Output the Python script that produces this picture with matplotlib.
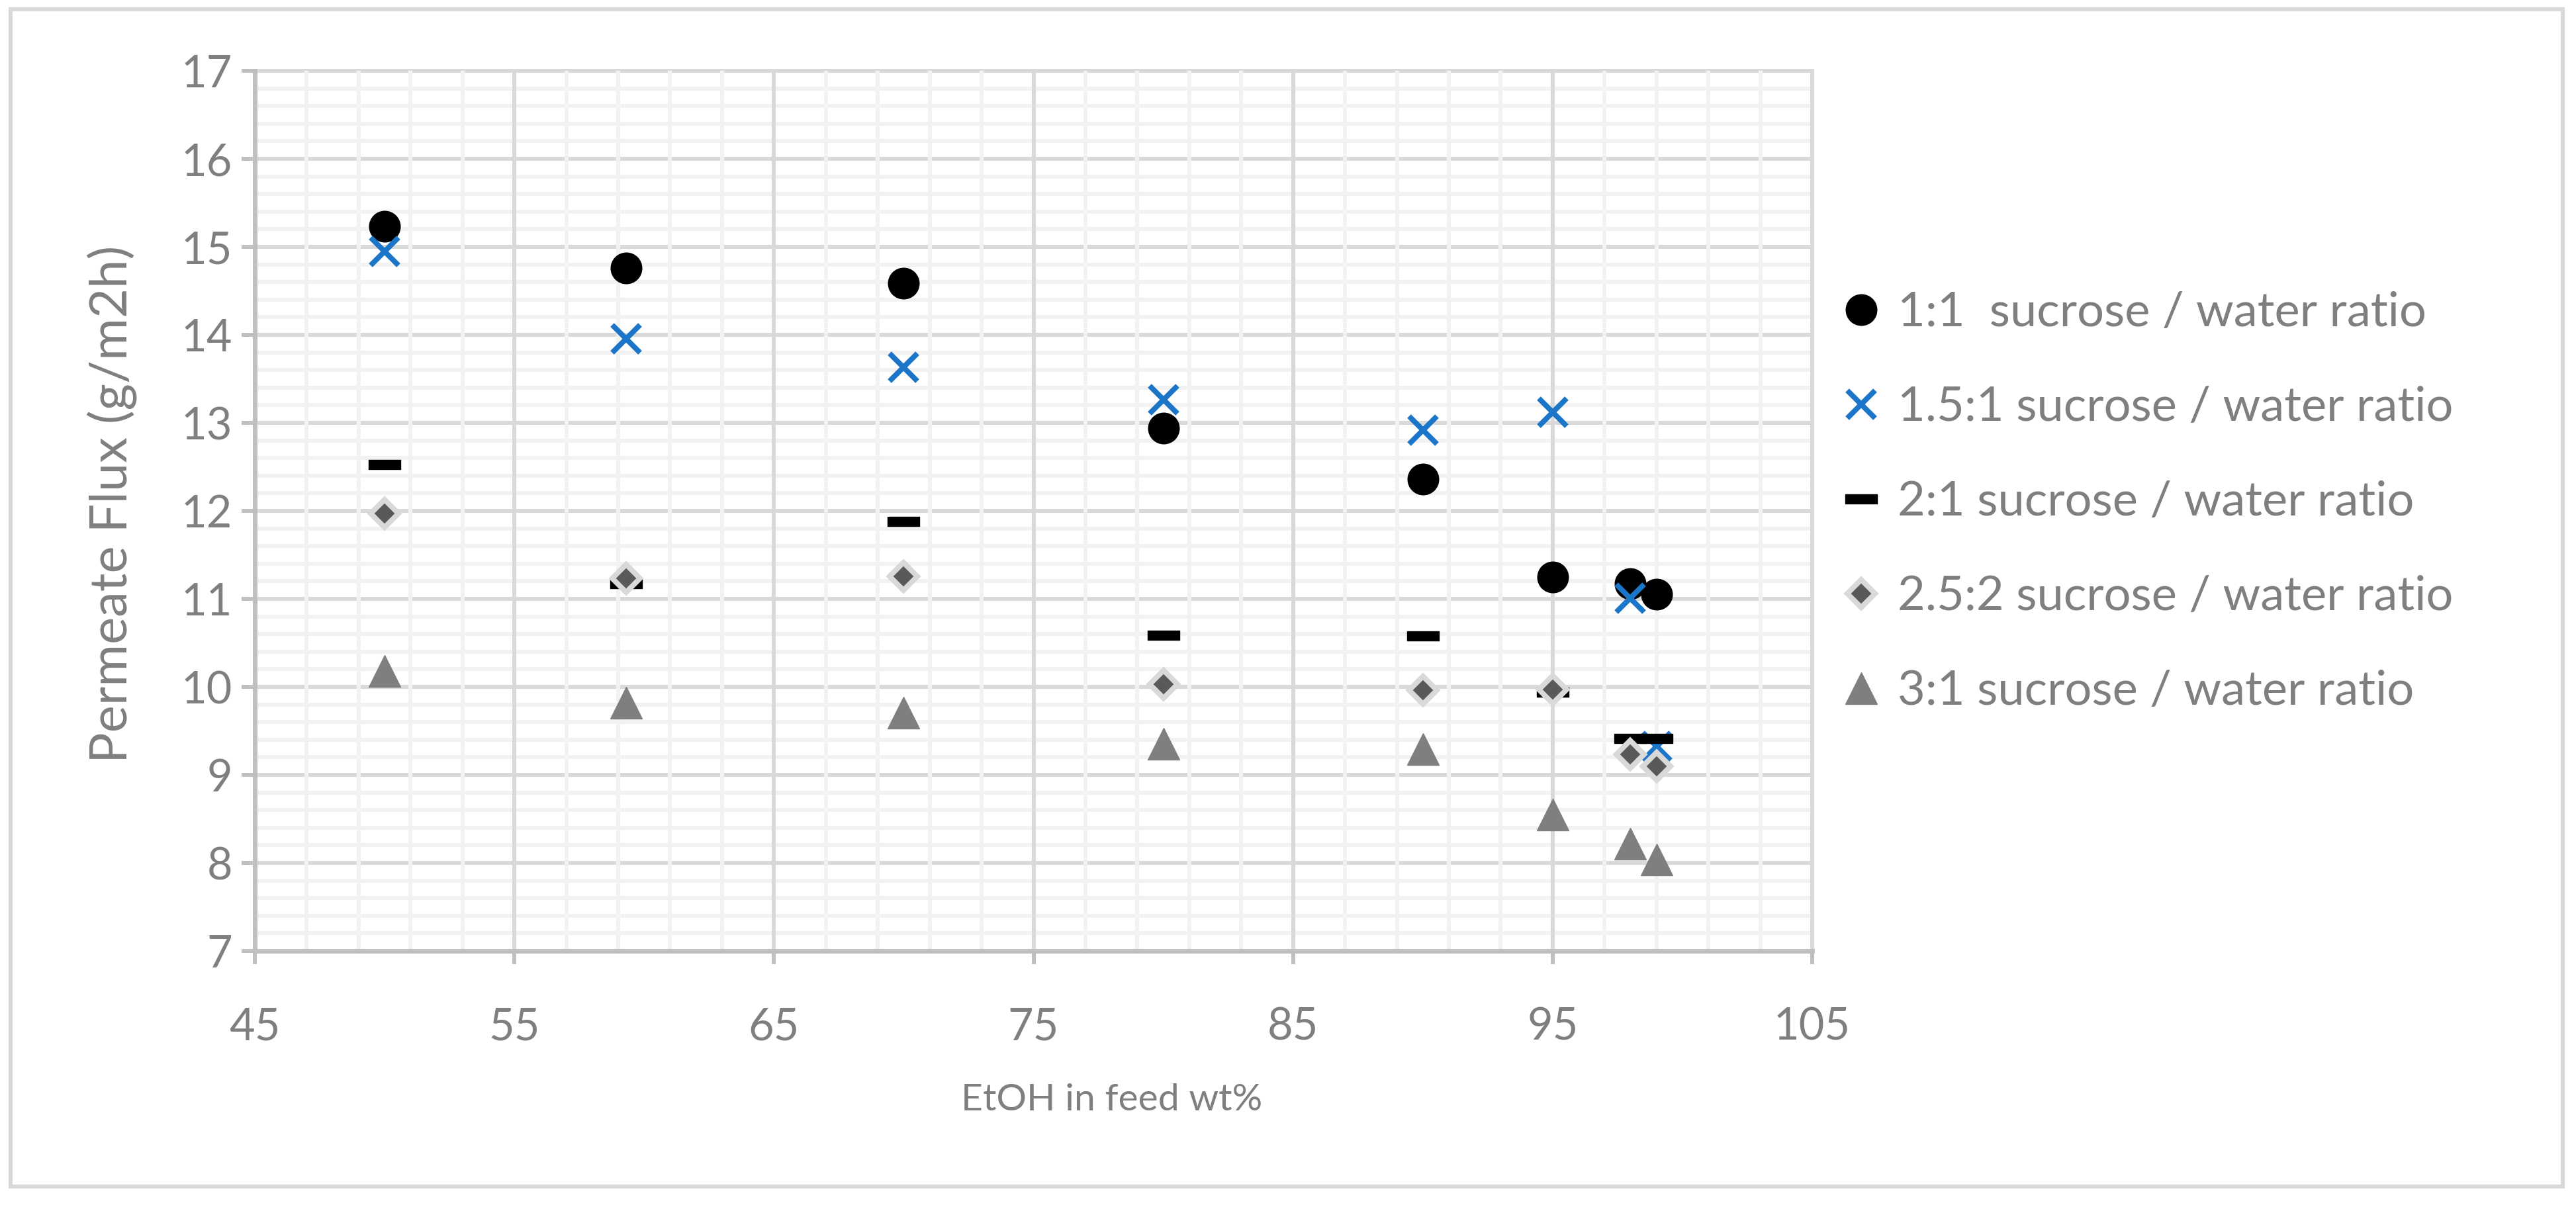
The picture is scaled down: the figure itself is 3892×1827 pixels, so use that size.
import matplotlib
matplotlib.use("Agg")
import matplotlib.pyplot as plt
from matplotlib.path import Path
from matplotlib.patches import Rectangle
from matplotlib.ticker import MultipleLocator

# ---------------- data ----------------
etoh = [50, 59.3, 70, 80, 90, 95, 98, 99]
flux_1_1 = [15.23, 14.76, 14.585, 12.94, 12.36, 11.25, 11.17, 11.05]
flux_15_1 = [14.95, 13.955, 13.63, 13.26, 12.92, 13.12, 11.01, 9.32]
flux_2_1 = [12.53, 11.17, 11.88, 10.59, 10.58, 9.94, 9.41, 9.41]
flux_25_2 = [11.97, 11.23, 11.255, 10.03, 9.96, 9.97, 9.23, 9.10]
flux_3_1 = [10.18, 9.82, 9.71, 9.35, 9.29, 8.55, 8.22, 8.04]

labels = ["1:1  sucrose / water ratio",
          "1.5:1 sucrose / water ratio",
          "2:1 sucrose / water ratio",
          "2.5:2 sucrose / water ratio",
          "3:1 sucrose / water ratio"]

x_label = "EtOH in feed wt%"
y_label = "Permeate Flux (g/m2h)"

# ---------------- style ----------------
W, H = 3892, 1827
DPI = 100
PX = 72.0 / DPI  # points per pixel

plt.rcParams['font.family'] = ['Lato', 'DejaVu Sans']
TXT = '#7F7F7F'

fig = plt.figure(figsize=(W / DPI, H / DPI), dpi=DPI)
fig.patch.set_facecolor('white')

L, R, T, B = 385, 2738, 107, 1437
ax = fig.add_axes([L / W, 1 - B / H, (R - L) / W, (B - T) / H])

ax.set_xlim(45, 105)
ax.set_ylim(7, 17)
ax.xaxis.set_major_locator(MultipleLocator(10, offset=5))
ax.xaxis.set_minor_locator(MultipleLocator(2, offset=1))
ax.yaxis.set_major_locator(MultipleLocator(1))
ax.yaxis.set_minor_locator(MultipleLocator(0.2))

grid_lw = 6 * PX
ax.grid(which='minor', color='#F2F2F2', linewidth=grid_lw)
ax.grid(which='major', color='#D9D9D9', linewidth=grid_lw)
ax.yaxis.set_zorder(0.5)
ax.xaxis.set_zorder(0.6)

for s in ['top', 'right']:
    ax.spines[s].set_visible(False)
for s in ['left', 'bottom']:
    ax.spines[s].set_color('#BFBFBF')
    ax.spines[s].set_linewidth(7 * PX)
    ax.spines[s].set_zorder(1)

ax.tick_params(which='major', direction='out', length=20 * PX, width=6 * PX,
               color='#BFBFBF', labelcolor=TXT, labelsize=48)
ax.tick_params(axis='x', which='major', pad=64 * PX)
ax.tick_params(axis='y', which='major', pad=14 * PX)
ax.tick_params(which='minor', length=0)

for ln in ax.get_xgridlines() + ax.get_ygridlines():
    ln.set_clip_on(False)

# markers
MS = 48 * PX
dash = Path([(-1, -0.31), (1, -0.31), (1, 0.31), (-1, 0.31), (-1, -0.31)],
            [Path.MOVETO, Path.LINETO, Path.LINETO, Path.LINETO, Path.CLOSEPOLY])

ax.plot(etoh, flux_1_1, linestyle='none', marker='o', ms=MS,
        color='black', mec='black', mew=0, label=labels[0], zorder=3)
ax.plot(etoh, flux_15_1, linestyle='none', marker='x', ms=42 * PX,
        color='#1B75C9', mew=8 * PX, label=labels[1], zorder=3)
ax.plot(etoh, flux_2_1, linestyle='none', marker=dash, ms=MS,
        color='black', mec='black', mew=1, label=labels[2], zorder=3)
ax.plot(etoh, flux_25_2, linestyle='none', marker='D', ms=30 * PX,
        mfc='#595959', mec='#D9D9D9', mew=8 * PX, label=labels[3], zorder=3)
ax.plot(etoh, flux_3_1, linestyle='none', marker='^', ms=MS,
        color='#7F7F7F', mec='#7F7F7F', mew=1, label=labels[4], zorder=3)

# axis titles
ax.set_ylabel(y_label, fontsize=56, color=TXT)
ax.yaxis.set_label_coords((169 - L) / (R - L), (B - 762) / (B - T))
ax.yaxis.label.set_verticalalignment('center')
ax.set_xlabel(x_label, fontsize=41, color=TXT)
ax.xaxis.set_label_coords((1680 - L) / (R - L), (B - 1663) / (B - T))
ax.xaxis.label.set_verticalalignment('center')

# legend
leg = ax.legend(loc='upper left', bbox_to_anchor=(2788 / W, 1 - 440 / H),
                bbox_transform=fig.transFigure, frameon=False, fontsize=52,
                handlelength=0.67, handletextpad=0.42, borderpad=0,
                borderaxespad=0, labelspacing=1.08, numpoints=1)
for t in leg.get_texts():
    t.set_color(TXT)

# outer border
fig.patches.append(Rectangle((16 / W, 1 - 1793 / H), (3872 - 16) / W, (1793 - 14) / H,
                             transform=fig.transFigure, fill=False,
                             edgecolor='#D9D9D9', linewidth=6 * PX))

fig.savefig('out.png', dpi=DPI, facecolor='white')
